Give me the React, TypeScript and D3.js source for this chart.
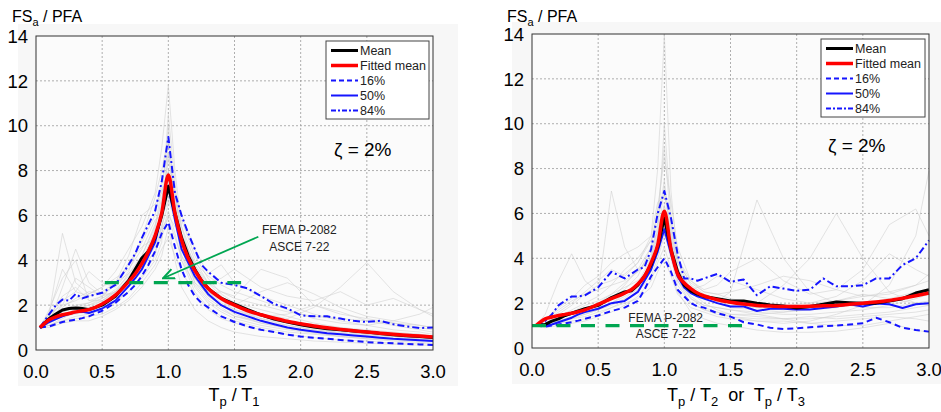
import React from "react";
import * as d3 from "d3";

// ---------- shared x grids ----------
const X_CURVE = [0.03, 0.1, 0.15, 0.2, 0.25, 0.3, 0.35, 0.4, 0.5, 0.6, 0.7, 0.75, 0.8, 0.85, 0.9, 0.95, 1.0, 1.05, 1.1, 1.15, 1.2, 1.25, 1.3, 1.4, 1.5, 1.6, 1.7, 1.8, 1.9, 2.0, 2.1, 2.2, 2.3, 2.4, 2.5, 2.6, 2.7, 2.8, 2.9, 3.0];
const X_GREY = [0.03, 0.1, 0.2, 0.3, 0.4, 0.5, 0.6, 0.7, 0.8, 0.9, 0.95, 1.0, 1.05, 1.1, 1.2, 1.3, 1.4, 1.5, 1.7, 1.9, 2.1, 2.3, 2.5, 2.7, 2.9, 3.0];

const X_TICKS = [0, 0.5, 1, 1.5, 2, 2.5, 3];
const Y_TICKS = [0, 2, 4, 6, 8, 10, 12, 14];

// ---------- left panel (Tp / T1) ----------
const L_MEAN = [1.0, 1.4, 1.6, 1.78, 1.85, 1.87, 1.85, 1.8, 2.0, 2.4, 3.1, 3.6, 4.1, 4.4, 5.0, 6.0, 7.3, 6.1, 5.0, 4.2, 3.6, 3.1, 2.75, 2.3, 2.05, 1.8, 1.57, 1.38, 1.25, 1.12, 1.02, 0.95, 0.9, 0.85, 0.8, 0.74, 0.68, 0.64, 0.6, 0.56];
const L_FIT = [1.0, 1.35, 1.48, 1.57, 1.63, 1.7, 1.75, 1.8, 2.05, 2.45, 3.05, 3.4, 3.85, 4.4, 5.1, 6.1, 7.8, 6.1, 4.9, 4.1, 3.55, 3.1, 2.75, 2.3, 2.0, 1.75, 1.57, 1.42, 1.28, 1.17, 1.07, 0.99, 0.92, 0.86, 0.8, 0.75, 0.7, 0.66, 0.62, 0.58];
const L_P16 = [1.0, 1.05, 1.15, 1.25, 1.3, 1.35, 1.42, 1.5, 1.75, 2.1, 2.6, 2.9, 3.3, 3.8, 4.4, 5.2, 5.7, 4.6, 3.6, 2.9, 2.4, 2.1, 1.9, 1.5, 1.25, 1.05, 0.9, 0.8, 0.68, 0.6, 0.55, 0.5, 0.45, 0.4, 0.35, 0.32, 0.3, 0.27, 0.25, 0.22];
const L_P50 = [1.0, 1.25, 1.38, 1.5, 1.6, 1.68, 1.7, 1.65, 1.85, 2.2, 2.85, 3.2, 3.6, 4.2, 4.8, 6.0, 7.3, 5.8, 4.5, 3.9, 3.3, 2.9, 2.5, 2.0, 1.7, 1.5, 1.3, 1.15, 1.0, 0.9, 0.82, 0.75, 0.7, 0.65, 0.6, 0.55, 0.5, 0.47, 0.44, 0.4];
const L_P84 = [1.0, 1.6, 2.0, 2.25, 2.2, 2.5, 2.3, 2.4, 2.55, 2.9, 3.8, 4.3, 5.0, 5.6, 6.2, 7.5, 9.5, 7.0, 6.0, 5.2, 4.5, 3.8, 3.5, 3.0, 2.9, 2.75, 2.4, 2.05, 1.85, 1.55, 1.5, 1.5, 1.4, 1.3, 1.25, 1.3, 1.15, 1.05, 0.98, 1.0];
const L_RECORDS = [
  [1, 1.6, 5.2, 3, 2.5, 2.8, 3.5, 4.5, 5.5, 7, 9, 11.8, 8, 5.5, 3.5, 2.6, 2.2, 1.8, 1.4, 1.1, 0.9, 0.8, 0.7, 0.6, 0.5, 0.5],
  [1, 1.2, 1.5, 1.6, 1.7, 2.0, 2.3, 2.8, 3.6, 4.8, 6.5, 10.5, 7.5, 5.0, 3.2, 2.4, 2.0, 1.6, 1.2, 1.0, 0.8, 0.6, 0.5, 0.45, 0.4, 0.4],
  [1, 1.8, 3.2, 4.0, 2.2, 2.2, 2.6, 3.4, 4.2, 5.6, 6.5, 8.5, 7.0, 6.0, 4.5, 3.4, 3.8, 3.0, 2.4, 2.0, 1.6, 1.3, 1.1, 0.9, 0.8, 0.7],
  [1, 1.1, 1.3, 1.4, 1.5, 1.6, 1.9, 2.3, 3.0, 3.8, 4.5, 5.0, 4.2, 3.5, 2.5, 1.8, 1.4, 1.2, 0.9, 0.7, 0.55, 0.45, 0.4, 0.3, 0.3, 0.25],
  [1, 1.4, 2.2, 2.6, 3.5, 3.0, 2.8, 3.5, 5.0, 6.8, 8.0, 9.5, 7.0, 5.0, 3.0, 2.5, 2.6, 2.4, 3.6, 3.2, 2.0, 1.6, 1.4, 1.2, 1.0, 0.9],
  [1, 1.3, 1.8, 2.0, 2.1, 2.4, 3.0, 4.2, 6.0, 6.5, 7.0, 8.0, 6.5, 5.2, 3.8, 2.8, 2.2, 1.9, 1.6, 1.4, 1.9, 2.8, 3.9, 2.6, 1.8, 1.5],
  [1, 1.5, 1.7, 1.9, 2.0, 2.2, 2.6, 3.2, 4.2, 5.5, 7.2, 7.5, 6.0, 4.5, 3.0, 2.3, 1.9, 1.5, 1.3, 1.1, 0.9, 0.75, 0.65, 0.6, 0.5, 0.45],
  [1, 1.2, 2.8, 4.5, 3.0, 2.5, 2.5, 3.0, 3.6, 4.4, 5.0, 6.0, 5.5, 5.8, 4.2, 3.2, 2.5, 2.1, 1.8, 1.5, 1.2, 1.0, 0.9, 0.8, 0.7, 0.6],
  [1, 1.6, 2.0, 2.2, 2.5, 2.8, 3.2, 3.6, 4.5, 5.8, 6.0, 7.0, 6.2, 4.8, 3.6, 3.0, 3.2, 3.6, 2.8, 2.4, 2.2, 2.6, 2.0, 2.3, 1.8, 1.6],
  [1, 1.0, 1.2, 1.3, 1.3, 1.5, 1.8, 2.2, 2.8, 3.6, 4.2, 5.5, 4.0, 2.8, 1.8, 1.3, 1.0, 0.8, 0.6, 0.5, 0.4, 0.35, 0.3, 0.25, 0.22, 0.2],
  [1, 1.3, 1.6, 1.8, 2.0, 2.3, 2.6, 2.9, 3.5, 4.8, 5.5, 6.5, 6.8, 5.5, 4.0, 3.0, 2.4, 2.0, 2.6, 3.0, 2.5, 1.9, 1.5, 1.3, 1.1, 1.0],
  [1, 1.1, 1.4, 1.7, 1.9, 2.0, 2.2, 2.6, 3.2, 4.0, 4.8, 10, 6.0, 4.0, 2.6, 1.9, 1.5, 1.3, 1.0, 0.8, 0.7, 0.6, 0.5, 0.4, 0.35, 0.3],
  [1, 1.3, 1.7, 1.9, 2.1, 2.3, 2.7, 3.3, 4.0, 5.2, 6.2, 7.0, 5.8, 4.6, 3.4, 2.6, 2.1, 1.8, 1.5, 1.2, 1.0, 0.9, 0.8, 0.7, 0.6, 0.55],
  [1, 1.5, 2.4, 2.8, 2.2, 2.4, 2.9, 3.8, 4.8, 6.0, 7.5, 8.8, 6.8, 5.2, 3.6, 2.8, 2.3, 2.0, 1.6, 1.3, 1.1, 1.0, 0.85, 0.75, 0.7, 0.6],
  [1, 1.2, 1.5, 1.7, 1.8, 2.0, 2.4, 2.9, 3.7, 4.4, 5.2, 6.2, 5.2, 4.0, 2.9, 2.2, 1.8, 1.5, 1.2, 0.95, 0.8, 0.7, 0.6, 0.5, 0.45, 0.4],
  [1, 1.7, 3.6, 2.6, 2.4, 2.6, 3.0, 3.4, 4.0, 5.0, 5.8, 6.8, 6.0, 5.0, 3.8, 3.0, 2.6, 2.3, 2.0, 1.7, 1.5, 1.4, 1.3, 1.2, 1.1, 1.0],
  [1, 1.1, 1.3, 1.5, 1.6, 1.8, 2.1, 2.6, 3.3, 4.2, 5.6, 8.8, 6.2, 4.2, 2.8, 2.1, 1.7, 1.4, 1.1, 0.9, 0.75, 0.6, 0.55, 0.5, 0.45, 0.4],
  [1, 1.4, 1.9, 2.3, 2.6, 2.5, 2.9, 3.9, 4.6, 5.0, 6.0, 6.6, 5.9, 5.0, 3.9, 3.3, 2.9, 2.6, 2.2, 1.8, 1.4, 1.2, 1.1, 1.3, 1.6, 1.9],
  [1, 1.2, 1.6, 1.8, 1.9, 2.2, 2.5, 3.0, 3.9, 5.4, 6.8, 7.8, 6.5, 4.8, 3.2, 2.4, 2.0, 1.7, 1.4, 1.2, 1.0, 0.85, 0.7, 0.6, 0.55, 0.5],
  [1, 1.3, 2.0, 3.2, 2.8, 2.4, 2.6, 3.1, 3.8, 4.6, 5.4, 5.9, 5.0, 4.2, 3.2, 2.5, 2.0, 1.7, 1.5, 1.6, 2.0, 1.7, 1.3, 1.1, 0.9, 0.8],
];

// ---------- right panel (Tp / T2 or Tp / T3) ----------
const R_MEAN = [1.0, 1.05, 1.2, 1.3, 1.45, 1.55, 1.65, 1.75, 1.9, 2.25, 2.5, 2.55, 2.8, 3.2, 3.7, 4.5, 5.8, 4.4, 3.4, 2.8, 2.55, 2.4, 2.3, 2.2, 2.1, 2.1, 2.0, 1.92, 1.87, 1.78, 1.85, 1.95, 2.05, 2.02, 2.0, 2.0, 2.1, 2.2, 2.45, 2.6];
const R_FIT = [1.0, 1.3, 1.38, 1.45, 1.5, 1.55, 1.62, 1.7, 1.95, 2.2, 2.45, 2.6, 2.85, 3.2, 3.8, 4.6, 6.1, 4.4, 3.3, 2.9, 2.65, 2.45, 2.32, 2.15, 2.04, 1.96, 1.9, 1.87, 1.85, 1.85, 1.86, 1.88, 1.9, 1.95, 2.0, 2.05, 2.12, 2.22, 2.33, 2.45];
const R_P16 = [1.0, 0.95, 1.0, 1.05, 1.1, 1.15, 1.22, 1.3, 1.45, 1.65, 1.8, 1.95, 2.1, 2.6, 3.2, 3.6, 4.0, 3.4, 2.6, 2.3, 2.0, 1.85, 1.8, 1.55, 1.4, 1.15, 1.05, 0.9, 0.85, 0.88, 0.92, 0.97, 1.0, 1.05, 1.1, 1.35, 1.15, 0.9, 0.8, 0.73];
const R_P50 = [1.0, 1.0, 1.05, 1.15, 1.25, 1.35, 1.5, 1.6, 1.75, 2.0, 2.1, 2.3, 2.5, 3.0, 3.5, 4.3, 5.3, 4.2, 3.2, 2.7, 2.45, 2.3, 2.2, 2.0, 1.85, 1.85, 1.65, 1.75, 1.75, 1.72, 1.72, 1.78, 1.85, 1.95, 1.85, 1.98, 1.95, 1.78, 1.95, 2.0];
const R_P84 = [1.0, 1.2, 1.5, 1.9, 2.1, 2.3, 2.3, 2.35, 2.7, 3.4, 3.1, 3.3, 3.5, 3.6, 4.4, 6.0, 7.0, 5.8, 4.2, 3.1, 3.1, 3.0, 3.1, 3.3, 2.95, 3.05, 2.35, 2.75, 2.65, 2.55, 2.6, 3.1, 2.75, 2.75, 2.8, 3.1, 3.1, 3.7, 4.0, 4.8];
const R_RECORDS = [
  [1, 1.2, 1.6, 2.0, 2.5, 3.0, 3.5, 3.2, 3.8, 5.0, 8.0, 14.0, 7.0, 4.0, 2.8, 2.4, 2.2, 2.0, 1.8, 1.7, 1.8, 1.9, 2.0, 2.2, 2.5, 2.6],
  [1, 1.5, 3.0, 4.2, 3.0, 2.5, 7.0, 4.5, 3.5, 4.0, 5.0, 10.0, 6.0, 3.8, 2.6, 2.3, 2.1, 2.5, 6.6, 4.0, 2.5, 2.0, 1.8, 1.8, 2.0, 2.1],
  [1, 1.0, 1.2, 1.4, 1.6, 1.8, 2.0, 2.4, 2.9, 4.0, 5.5, 7.5, 5.0, 3.2, 2.2, 1.8, 1.6, 1.4, 1.2, 1.1, 1.2, 1.5, 1.9, 2.8, 5.0, 7.9],
  [1, 1.1, 1.3, 1.5, 1.7, 2.0, 2.3, 2.6, 3.2, 4.5, 6.2, 8.5, 6.5, 4.5, 3.0, 2.5, 2.4, 2.2, 2.0, 2.8, 4.0, 6.0, 4.0, 2.5, 2.0, 1.9],
  [1, 0.9, 1.0, 1.1, 1.2, 1.4, 1.6, 1.9, 2.3, 3.0, 3.8, 4.5, 3.5, 2.5, 1.6, 1.3, 1.1, 1.0, 0.8, 0.7, 0.7, 0.75, 0.9, 1.1, 0.8, 0.7],
  [1, 1.3, 1.8, 2.2, 2.8, 3.2, 3.8, 4.2, 4.5, 5.0, 6.5, 6.8, 5.5, 4.0, 3.0, 2.6, 2.8, 3.4, 4.0, 3.0, 2.4, 2.6, 3.5, 5.5, 6.2, 5.0],
  [1, 1.1, 1.4, 1.7, 2.0, 2.3, 2.8, 3.5, 4.0, 4.8, 5.6, 6.0, 5.0, 3.6, 2.5, 2.0, 1.7, 1.5, 1.5, 1.6, 1.8, 2.1, 2.4, 2.2, 2.0, 2.0],
  [1, 1.0, 1.1, 1.2, 1.3, 1.5, 1.8, 2.1, 2.5, 3.2, 4.0, 5.0, 4.5, 3.0, 2.0, 1.7, 1.6, 1.5, 1.4, 1.3, 1.3, 1.4, 1.5, 1.6, 1.8, 1.9],
  [1, 1.2, 1.5, 1.9, 2.4, 2.8, 3.0, 3.3, 3.8, 4.8, 6.0, 9.0, 5.5, 3.5, 2.6, 2.8, 3.2, 3.0, 2.6, 2.2, 2.0, 2.3, 3.0, 4.2, 3.5, 3.2],
  [1, 1.1, 1.3, 1.5, 1.6, 1.8, 2.2, 2.8, 3.5, 4.5, 5.2, 5.8, 4.8, 3.2, 2.3, 1.9, 1.8, 1.7, 1.5, 1.3, 1.1, 1.0, 1.0, 1.2, 1.4, 1.5],
  [1, 1.1, 1.3, 1.6, 1.8, 2.0, 2.4, 2.7, 3.0, 3.6, 4.6, 6.0, 4.6, 3.3, 2.5, 2.2, 2.0, 1.9, 1.8, 1.9, 2.0, 2.1, 2.3, 2.5, 2.8, 3.0],
  [1, 1.2, 1.4, 1.6, 1.9, 2.1, 2.4, 2.9, 3.4, 4.2, 5.2, 6.4, 4.8, 3.4, 2.6, 2.2, 2.0, 1.8, 1.7, 1.6, 1.7, 1.8, 2.0, 2.1, 2.3, 2.4],
  [1, 1.0, 1.1, 1.3, 1.5, 1.7, 1.9, 2.2, 2.7, 3.4, 4.4, 5.2, 4.0, 2.8, 2.0, 1.7, 1.5, 1.4, 1.3, 1.3, 1.4, 1.3, 1.4, 1.5, 1.6, 1.7],
  [1, 1.3, 1.7, 2.1, 2.4, 2.6, 2.8, 3.0, 3.4, 4.0, 5.0, 6.3, 5.2, 3.8, 2.9, 2.5, 2.4, 2.5, 2.8, 3.2, 3.0, 2.6, 2.3, 2.4, 2.8, 3.3],
  [1, 1.1, 1.2, 1.4, 1.5, 1.7, 2.0, 2.3, 2.6, 3.4, 4.8, 7.2, 4.6, 3.0, 2.2, 1.9, 1.8, 1.7, 1.6, 1.5, 1.5, 1.6, 1.7, 1.9, 2.2, 2.4],
  [1, 1.0, 1.2, 1.3, 1.4, 1.6, 1.8, 2.0, 2.2, 2.7, 3.4, 4.0, 3.2, 2.4, 1.8, 1.6, 1.4, 1.3, 1.2, 1.2, 1.1, 1.2, 1.3, 1.4, 1.3, 1.2],
];

// code-based provisions (FEMA P-2082 / ASCE 7-22)
const L_CODE_X = [0.52, 1.55];
const L_CODE_Y = 3;
const R_CODE_X = [0.0, 1.6];
const R_CODE_Y = 1;

const LEGEND_LABELS = ["Mean", "Fitted mean", "16%", "50%", "84%"];
const FONT = "'Liberation Sans', Arial, Helvetica, sans-serif";
const GREEN = "#00a651";
const BLUE = "#1515ff";

type Style = { stroke: string; width: number; dash?: string };
const STYLES: Style[] = [
  { stroke: "#000", width: 3 },
  { stroke: "#ff0000", width: 3.5 },
  { stroke: BLUE, width: 2, dash: "6,4" },
  { stroke: BLUE, width: 2 },
  { stroke: BLUE, width: 2, dash: "7,3,2,3" },
];

type PanelProps = {
  left: number; right: number; top: number; bottom: number;
  mean: number[]; fit: number[]; p16: number[]; p50: number[]; p84: number[];
  records: number[][];
  codeX: number[]; codeY: number;
  legend: { x: number; y: number; w: number; h: number };
  zeta: { x: number; y: number };
  yTitle: { x: number; y: number };
  tickLabelGap: number;
  bg: { x: number; y: number; w: number; h: number };
  children?: (x: d3.ScaleLinear<number, number>, y: d3.ScaleLinear<number, number>) => React.ReactNode;
};

function Panel(p: PanelProps) {
  const x = d3.scaleLinear().domain([0, 3]).range([p.left, p.right]);
  const y = d3.scaleLinear().domain([0, 14]).range([p.bottom, p.top]);
  const line = d3.line<[number, number]>().x((d) => x(d[0])).y((d) => y(d[1]));
  const smooth = d3.line<[number, number]>().x((d) => x(d[0])).y((d) => y(d[1])).curve(d3.curveMonotoneX);
  const pts = (xs: number[], ys: number[]) => xs.map((v, i) => [v, ys[i]] as [number, number]);
  const series = [p.mean, p.fit, p.p16, p.p50, p.p84];
  const order = [2, 4, 3, 0, 1];
  return (
    <g>
      <rect x={p.bg.x} y={p.bg.y} width={p.bg.w} height={p.bg.h} fill="#f7f7f7" />
      <rect x={p.left} y={p.top} width={p.right - p.left} height={p.bottom - p.top} fill="#fbfbfb" />
      {X_TICKS.filter((t) => t > 0 && t < 3).map((t) => (
        <line key={"gx" + t} x1={x(t)} x2={x(t)} y1={p.top} y2={p.bottom} stroke="#9a9a9a" strokeWidth={0.8} strokeDasharray="2,2" />
      ))}
      {Y_TICKS.filter((t) => t > 0 && t < 14).map((t) => (
        <line key={"gy" + t} x1={p.left} x2={p.right} y1={y(t)} y2={y(t)} stroke="#9a9a9a" strokeWidth={0.8} strokeDasharray="2,2" />
      ))}
      <g>
        {p.records.map((r, i) => (
          <path key={"r" + i} d={line(pts(X_GREY, r)) || ""} fill="none" stroke="#cfcfcf" strokeOpacity={0.7} strokeWidth={0.8} />
        ))}
      </g>
      {order.map((k) => (
        <path key={"s" + k} d={(k === 1 ? smooth : line)(pts(X_CURVE, series[k])) || ""} fill="none"
          stroke={STYLES[k].stroke} strokeWidth={STYLES[k].width} strokeDasharray={STYLES[k].dash} strokeLinejoin="round" />
      ))}
      <line x1={x(p.codeX[0])} x2={x(p.codeX[1])} y1={y(p.codeY)} y2={y(p.codeY)} stroke={GREEN} strokeWidth={3.3} strokeDasharray="14,10.5" />
      {p.children && p.children(x, y)}
      <rect x={p.left} y={p.top} width={p.right - p.left} height={p.bottom - p.top} fill="none" stroke="#333" strokeWidth={1} />
      {Y_TICKS.map((t) => (
        <text key={"yt" + t} x={p.left - p.tickLabelGap} y={y(t)} dy="0.36em" textAnchor="end" fontSize={18.5} fill="#000">{t}</text>
      ))}
      {X_TICKS.map((t) => (
        <text key={"xt" + t} x={x(t)} y={p.bottom + 28} textAnchor="middle" fontSize={18.5} fill="#000">{t.toFixed(1)}</text>
      ))}
      <text x={p.yTitle.x} y={p.yTitle.y} fontSize={16}>
        FS<tspan fontSize={11} dy={4}>a</tspan><tspan dy={-4}> / PFA</tspan>
      </text>
      <text x={p.zeta.x} y={p.zeta.y} fontSize={19}>ζ = 2%</text>
      <g>
        <rect x={p.legend.x} y={p.legend.y} width={p.legend.w} height={p.legend.h} fill="#fff" stroke="#444" strokeWidth={1} />
        {LEGEND_LABELS.map((lab, i) => {
          const ly = p.legend.y + 9.5 + i * 15;
          return (
            <g key={lab}>
              <line x1={p.legend.x + 5} x2={p.legend.x + 32} y1={ly} y2={ly} stroke={STYLES[i].stroke}
                strokeWidth={STYLES[i].width} strokeDasharray={STYLES[i].dash === "6,4" ? "5,3" : STYLES[i].dash === "7,3,2,3" ? "5,2,2,2" : undefined} />
              <text x={p.legend.x + 34} y={ly} dy="0.36em" fontSize={12.5} fill="#222">{lab}</text>
            </g>
          );
        })}
      </g>
    </g>
  );
}

// annotation positions in data space
const L_NOTE = { tx: 1.99, ty1: 5.35, ty2: 4.6, ax1: 1.68, ay1: 5.05, ax2: 0.96, ay2: 3.2 };
const R_NOTE = { tx: 1.01, ty1: 1.34, ty2: 0.62 };

export default function App() {
  return (
    <svg width={941} height={412} style={{ display: "block", position: "absolute", left: 0, top: 0, fontFamily: FONT }}>
      <rect width={941} height={412} fill="#fff" />
      <defs>
        <marker id="arr" viewBox="0 0 10 10" refX={9} refY={5} markerWidth={7} markerHeight={7} orient="auto-start-reverse">
          <path d="M0,1 L9,5 L0,9" fill="none" stroke={GREEN} strokeWidth={1.6} />
        </marker>
      </defs>
      <Panel left={36} right={433} top={36} bottom={350}
        mean={L_MEAN} fit={L_FIT} p16={L_P16} p50={L_P50} p84={L_P84} records={L_RECORDS}
        codeX={L_CODE_X} codeY={L_CODE_Y}
        legend={{ x: 326, y: 41, w: 103, h: 78 }} zeta={{ x: 334, y: 156 }} yTitle={{ x: 12, y: 22 }} tickLabelGap={8}
        bg={{ x: 18, y: 24, w: 440, h: 362 }}>
        {(x, y) => (
          <g>
            <line x1={x(L_NOTE.ax1)} y1={y(L_NOTE.ay1)} x2={x(L_NOTE.ax2)} y2={y(L_NOTE.ay2)} stroke={GREEN} strokeWidth={1.8} markerEnd="url(#arr)" />
            <text x={x(L_NOTE.tx)} y={y(L_NOTE.ty1)} dy="0.35em" textAnchor="middle" fontSize={12} fill="#222">FEMA P-2082</text>
            <text x={x(L_NOTE.tx)} y={y(L_NOTE.ty2)} dy="0.35em" textAnchor="middle" fontSize={12} fill="#222">ASCE 7-22</text>
          </g>
        )}
      </Panel>
      <Panel left={532} right={929} top={34} bottom={348}
        mean={R_MEAN} fit={R_FIT} p16={R_P16} p50={R_P50} p84={R_P84} records={R_RECORDS}
        codeX={R_CODE_X} codeY={R_CODE_Y}
        legend={{ x: 821, y: 39, w: 104, h: 78 }} zeta={{ x: 828, y: 152 }} yTitle={{ x: 507, y: 22 }} tickLabelGap={8}
        bg={{ x: 512, y: 22, w: 432, h: 362 }}>
        {(x, y) => (
          <g>
            <text x={x(R_NOTE.tx)} y={y(R_NOTE.ty1)} dy="0.35em" textAnchor="middle" fontSize={12} fill="#222">FEMA P-2082</text>
            <text x={x(R_NOTE.tx)} y={y(R_NOTE.ty2)} dy="0.35em" textAnchor="middle" fontSize={12} fill="#222">ASCE 7-22</text>
          </g>
        )}
      </Panel>
      <text x={234} y={401} textAnchor="middle" fontSize={18}>
        T<tspan fontSize={13} dy={5}>p</tspan><tspan dy={-5}> / T</tspan><tspan fontSize={13} dy={5}>1</tspan>
      </text>
      <text x={736} y={401} textAnchor="middle" fontSize={18} style={{ whiteSpace: "pre" }}>
        T<tspan fontSize={13} dy={5}>p</tspan><tspan dy={-5}> / T</tspan><tspan fontSize={13} dy={5}>2</tspan><tspan dy={-5}>  or  T</tspan><tspan fontSize={13} dy={5}>p</tspan><tspan dy={-5}> / T</tspan><tspan fontSize={13} dy={5}>3</tspan>
      </text>
    </svg>
  );
}
